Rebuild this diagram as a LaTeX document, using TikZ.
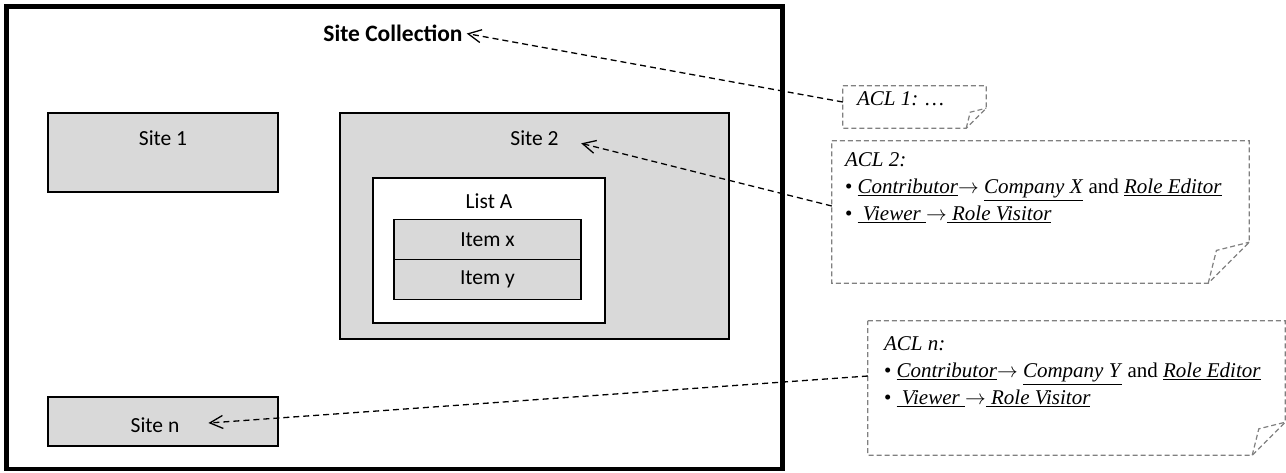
\documentclass[tikz,border=0pt]{standalone}
\usepackage{fontspec}
\setmainfont{Carlito}
\newfontfamily\notefont{Liberation Serif}
\usepackage{tikz}
\usetikzlibrary{arrows.meta,positioning}

\definecolor{sitegray}{RGB}{217,217,217}
\definecolor{notegray}{RGB}{128,128,128}

% outline of a note with a turned-up corner, #2 = size of the fold
\newcommand{\aclnote}[2]{%
  \draw[noteline] (#1.north west) -- (#1.north east) -- ([yshift=#2pt]#1.south east)
    -- ([xshift=-#2pt]#1.south east) -- (#1.south west) -- cycle;
  \draw[noteline] ([xshift=-#2pt]#1.south east) -- ([xshift=-0.8*#2pt,yshift=0.8*#2pt]#1.south east)
    -- ([yshift=#2pt]#1.south east);}

\begin{document}
\begin{tikzpicture}[x=1pt,y=-1pt,
    sitebox/.style={draw, fill=sitegray, line width=1.4pt, inner sep=0pt, outer sep=0pt,
      font=\fontsize{21.5}{26}\selectfont},
    boxlabel/.style={inner sep=1pt, font=\fontsize{21.5}{26}\selectfont},
    aclbox/.style={inner sep=0pt},
    acltext/.style={anchor=north west, align=left, inner sep=0pt,
      font=\notefont\fontsize{21}{27}\selectfont},
    noteline/.style={draw=notegray, line width=1.2pt, dash pattern=on 5pt off 3pt},
    aclarrow/.style={line width=1.3pt, dash pattern=on 6pt off 4pt,
      -{Straight Barb[length=13pt,width=13pt]}}
  ]
  \useasboundingbox (0,0) rectangle (1286,472);

  % site collection
  \node[draw, line width=4.5pt, minimum width=776pt, minimum height=462.5pt, inner sep=0pt] (sitecoll) at (394.5,237.75) {};
  \node[boxlabel, font=\bfseries\fontsize{23.5}{28}\selectfont] (sitecolllbl) at (393,33) {Site Collection};

  % sites
  \node[sitebox, minimum width=230pt, minimum height=79pt] (site1) at (163,152.5) {};
  \node[boxlabel] (site1lbl) at (163,138) {Site 1};
  \node[sitebox, minimum width=389pt, minimum height=226pt] (site2) at (534.5,226) {};
  \node[boxlabel] (site2lbl) at (534.5,138) {Site 2};
  \node[sitebox, fill=white, minimum width=232pt, minimum height=145pt] (lista) at (489,250.5) {};
  \node[boxlabel] (listalbl) at (489,201) {List A};
  \node[sitebox, minimum width=187pt, minimum height=40pt] (itemx) at (487.5,239.5) {Item x};
  \node[sitebox, minimum width=187pt, minimum height=40pt, below=0pt of itemx] (itemy) {Item y};
  \node[sitebox, minimum width=230pt, minimum height=49pt] (siten) at (163,421.5) {};
  \node[boxlabel] (sitenlbl) at (155,425) {Site n};

  % access control lists
  \node[aclbox, minimum width=143pt, minimum height=42pt] (acl1) at (914.5,107) {};
  \node[acltext] (acl1txt) at ([xshift=14pt,yshift=-6pt]acl1.north west) {\textit{ACL 1: \ldots}};
  \aclnote{acl1}{20}

  \node[aclbox, minimum width=417pt, minimum height=142pt] (acl2) at (1040.5,212) {};
  \node[acltext] (acl2txt) at ([xshift=13pt,yshift=-12pt]acl2.north west) {\textit{ACL 2:}\\
    \textbullet\ \underline{\textit{Contributor}}$\rightarrow$ \underline{\textit{Company X}} and \underline{\textit{Role Editor}}\\
    \textbullet\ \underline{\textit{\ Viewer\ }}$\rightarrow$\underline{\textit{\ Role Visitor}}};
  \aclnote{acl2}{41}

  \node[aclbox, minimum width=417pt, minimum height=134pt] (acln) at (1076.5,388) {};
  \node[acltext] (acltxtn) at ([xshift=16pt,yshift=-16pt]acln.north west) {\textit{ACL n:}\\
    \textbullet\ \underline{\textit{Contributor}}$\rightarrow$ \underline{\textit{Company Y}} and \underline{\textit{Role Editor}}\\
    \textbullet\ \underline{\textit{\ Viewer\ }}$\rightarrow$\underline{\textit{\ Role Visitor}}};
  \aclnote{acln}{33}

  % arrows
  \draw[aclarrow, shorten >=3pt] ([yshift=5pt]acl1.west) -- (sitecolllbl.east);
  \draw[aclarrow, shorten >=22pt] ([yshift=6pt]acl2.west) -- (site2lbl.east);
  \draw[aclarrow, shorten >=28pt] ([yshift=12pt]acln.west) -- (sitenlbl.east);
\end{tikzpicture}
\end{document}
